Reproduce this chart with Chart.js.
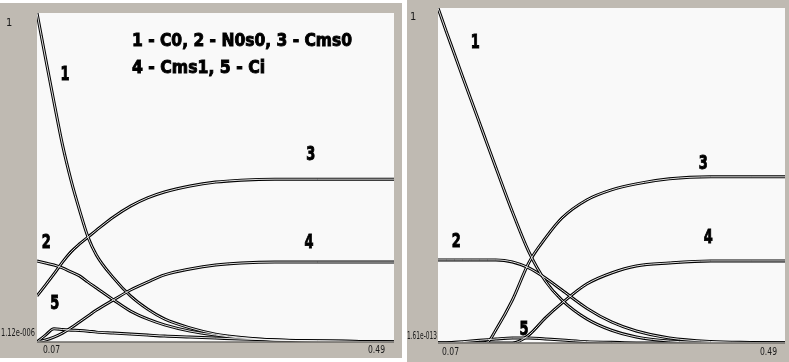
<!DOCTYPE html>
<html>
<head>
<meta charset="utf-8">
<script src="https://cdn.jsdelivr.net/npm/chart.js@4.4.1/dist/chart.umd.min.js"></script>
<style>
    body { margin: 0; background: #ffffff; width: 789px; height: 362px; overflow: hidden; }
    .panel { position: absolute; background: rgb(191, 186, 178); }
    #leftPanel { left: 0; top: 3px; width: 402px; height: 355px; }
    #rightPanel { left: 407px; top: 0; width: 382px; height: 362px; }
</style>
</head>
<body>
<div class="panel" id="leftPanel"><canvas id="leftChart" width="402" height="355"></canvas></div>
<div class="panel" id="rightPanel"><canvas id="rightChart" width="382" height="362"></canvas></div>
<script>
// time grid shared by both runs
const xs = [0.07, 0.08, 0.09, 0.10, 0.11, 0.12, 0.13, 0.14, 0.16, 0.18, 0.20, 0.22, 0.25, 0.28, 0.31, 0.35, 0.40, 0.45, 0.49];

// left run
const c0Left   = [1.0, 0.863, 0.729, 0.599, 0.492, 0.401, 0.319, 0.264, 0.195, 0.140, 0.100, 0.070, 0.043, 0.024, 0.014, 0.006, 0.003, 0.0015, 0.0];
const nos0Left = [0.246, 0.240, 0.234, 0.225, 0.213, 0.201, 0.182, 0.164, 0.128, 0.094, 0.070, 0.052, 0.033, 0.021, 0.012, 0.006, 0.003, 0.0015, 0.0];
const cms0Left = [0.140, 0.173, 0.207, 0.243, 0.274, 0.298, 0.319, 0.340, 0.380, 0.413, 0.438, 0.456, 0.474, 0.486, 0.492, 0.495, 0.495, 0.495, 0.495];
const cms1Left = [0.0, 0.006, 0.015, 0.027, 0.043, 0.061, 0.079, 0.097, 0.128, 0.158, 0.182, 0.204, 0.222, 0.234, 0.240, 0.243, 0.243, 0.243, 0.243];
const ciLeft   = [0.0, 0.021, 0.040, 0.038, 0.036, 0.035, 0.033, 0.030, 0.027, 0.024, 0.021, 0.018, 0.015, 0.012, 0.009, 0.006, 0.003, 0.0015, 0.0];

// right run
const c0Right   = [1.0, 0.930, 0.862, 0.793, 0.726, 0.659, 0.591, 0.524, 0.392, 0.272, 0.185, 0.128, 0.072, 0.038, 0.018, 0.006, 0.0015, 0.0, 0.0];
const nos0Right = [0.248, 0.248, 0.248, 0.248, 0.248, 0.248, 0.248, 0.248, 0.242, 0.224, 0.194, 0.158, 0.104, 0.063, 0.036, 0.015, 0.0045, 0.0015, 0.0];
const cms0Right = [0.0, 0.0, 0.0, 0.0, 0.0, 0.0, 0.003, 0.039, 0.128, 0.240, 0.313, 0.373, 0.427, 0.457, 0.475, 0.490, 0.496, 0.496, 0.496];
const cms1Right = [0.0, 0.0, 0.0, 0.0, 0.0, 0.0, 0.0, 0.0, 0.0, 0.024, 0.075, 0.119, 0.176, 0.209, 0.230, 0.239, 0.245, 0.245, 0.245];
const ciRight   = [0.0, 0.0, 0.002, 0.004, 0.006, 0.008, 0.010, 0.012, 0.015, 0.015, 0.012, 0.009, 0.004, 0.002, 0.0, 0.0, 0.0, 0.0, 0.0];

// axis tick texts
const xTickLabels = ["0.07", "0.49"];
const leftYTickLabels = ["1", "1.12e-006"];
const rightYTickLabels = ["1", "1.61e-013"];

// curve numbers and where they sit (data coords)
const curveNames = ["1", "2", "3", "4", "5"];
const leftNamePos = [[0.103, 0.812], [0.081, 0.301], [0.392, 0.568], [0.390, 0.301], [0.091, 0.116]];
const rightNamePos = [[0.115, 0.896], [0.092, 0.301], [0.391, 0.534], [0.397, 0.313], [0.174, 0.039]];

const legendLines = ["1 - C0, 2 - N0s0, 3 - Cms0", "4 - Cms1, 5 - Ci"];

const boldFont = '"Liberation Sans Narrow", "DejaVu Sans Condensed", sans-serif';

function toPoints(ys) {
    return xs.map((x, i) => ({ x: x, y: ys[i] }));
}

// every curve is stroked black and then split by a thin light line, giving the doubled trace
function buildDatasets(seriesList) {
    const sets = [];
    seriesList.forEach((ys) => {
        sets.push({
            data: toPoints(ys),
            borderColor: "#000000",
            borderWidth: 3,
            pointRadius: 0,
            cubicInterpolationMode: "monotone",
            order: 2,
        });
        sets.push({
            data: toPoints(ys),
            borderColor: "rgba(250, 250, 250, 0.9)",
            borderWidth: 1,
            pointRadius: 0,
            cubicInterpolationMode: "monotone",
            order: 1,
        });
    });
    return sets;
}

const plotBackground = {
    id: "plotBackground",
    beforeDatasetsDraw(chart) {
        const { ctx, chartArea } = chart;
        ctx.save();
        ctx.fillStyle = "#f9f9f9";
        ctx.fillRect(chartArea.left, chartArea.top, chartArea.right - chartArea.left, chartArea.bottom - chartArea.top);
        ctx.restore();
    },
    afterDatasetsDraw(chart) {
        const { ctx, chartArea } = chart;
        ctx.save();
        ctx.strokeStyle = "#6d6a66";
        ctx.lineWidth = 1.5;
        ctx.beginPath();
        ctx.moveTo(chartArea.left, chartArea.bottom);
        ctx.lineTo(chartArea.right, chartArea.bottom);
        ctx.stroke();
        ctx.restore();
    },
};

// bold text with an extra outline so it reads as heavy as a black face
function heavyText(ctx, text, x, y, maxWidth) {
    ctx.fillText(text, x, y, maxWidth);
    ctx.strokeText(text, x, y, maxWidth);
}

const textLayer = {
    id: "textLayer",
    afterDraw(chart, args, opts) {
        const { ctx, chartArea, scales } = chart;
        ctx.save();
        ctx.fillStyle = "#1a1a1a";
        ctx.textBaseline = "middle";
        ctx.font = '11px "Liberation Sans Narrow", "DejaVu Sans Condensed", sans-serif';

        // y range texts in the left margin
        ctx.textAlign = "left";
        ctx.fillText(opts.yTicks[0], opts.yTopPos[0], opts.yTopPos[1]);
        ctx.fillText(opts.yTicks[1], opts.yBottomPos[0], opts.yBottomPos[1], opts.yBottomPos[2]);

        // x range texts under the plot
        ctx.fillText(xTickLabels[0], chartArea.left + opts.xLeftInset, chartArea.bottom + opts.xDrop, 17);
        ctx.textAlign = "right";
        ctx.fillText(xTickLabels[1], chartArea.right - opts.xRightInset, chartArea.bottom + opts.xDrop, 17);

        // curve numbers
        ctx.fillStyle = "#000000";
        ctx.strokeStyle = "#000000";
        ctx.lineWidth = 0.9;
        ctx.textAlign = "center";
        ctx.font = "bold 19px " + boldFont;
        opts.names.forEach((p, i) => {
            heavyText(ctx, curveNames[i], scales.x.getPixelForValue(p[0]), scales.y.getPixelForValue(p[1]), 9);
        });

        if (opts.legend) {
            ctx.textAlign = "left";
            ctx.textBaseline = "alphabetic";
            ctx.font = "bold 18px " + boldFont;
            heavyText(ctx, legendLines[0], 132, 43, 220);
            heavyText(ctx, legendLines[1], 132, 70, 133);
        }
        ctx.restore();
    },
};

function makeChart(id, seriesList, padding, textOpts) {
    return new Chart(document.getElementById(id).getContext("2d"), {
        type: "line",
        data: { datasets: buildDatasets(seriesList) },
        options: {
            responsive: false,
            animation: false,
            layout: { padding: padding },
            scales: {
                x: { type: "linear", min: 0.07, max: 0.49, display: false },
                y: { min: 0, max: 1, display: false },
            },
            plugins: {
                legend: { display: false },
                tooltip: { enabled: false },
                textLayer: textOpts,
            },
        },
        plugins: [plotBackground, textLayer],
    });
}

makeChart("leftChart", [c0Left, nos0Left, cms0Left, cms1Left, ciLeft],
    { left: 37, top: 10, right: 8, bottom: 16 },
    {
        yTicks: leftYTickLabels,
        yTopPos: [6, 20],
        yBottomPos: [1, 330, 34],
        xLeftInset: 6,
        xRightInset: 9,
        xDrop: 8,
        names: leftNamePos,
        legend: true,
    });

makeChart("rightChart", [c0Right, nos0Right, cms0Right, cms1Right, ciRight],
    { left: 31, top: 8, right: 4, bottom: 19 },
    {
        yTicks: rightYTickLabels,
        yTopPos: [3, 17],
        yBottomPos: [0, 336, 30],
        xLeftInset: 4,
        xRightInset: 8,
        xDrop: 9,
        names: rightNamePos,
        legend: false,
    });
</script>
</body>
</html>
